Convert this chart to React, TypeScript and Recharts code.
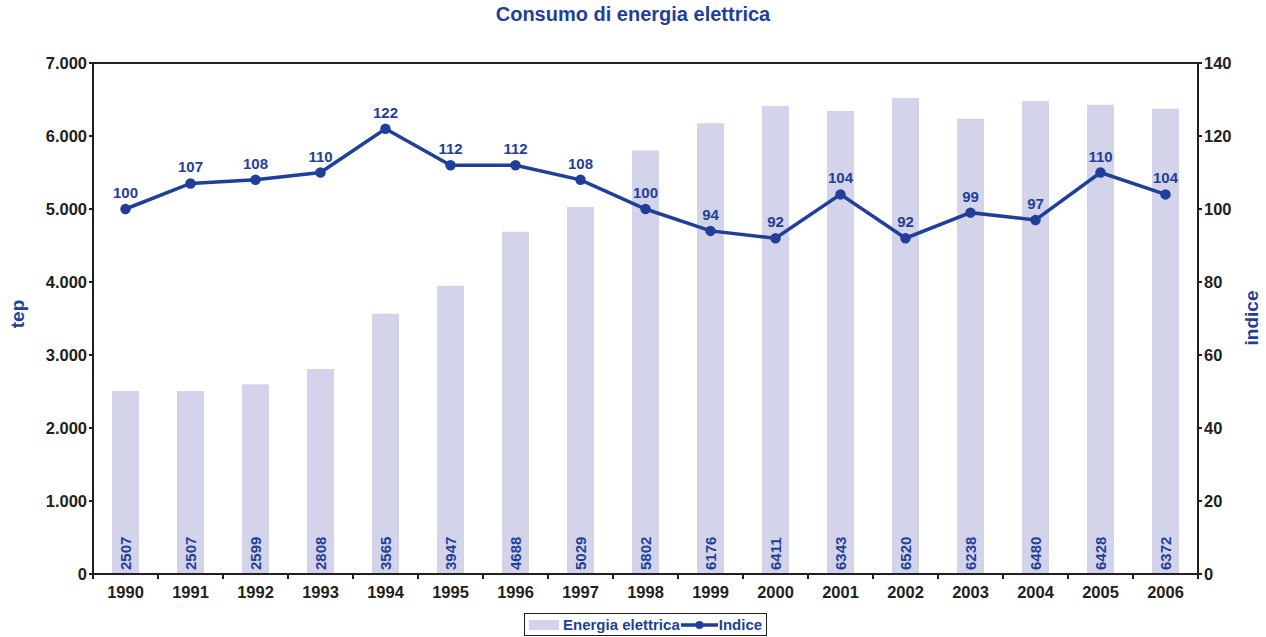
import { ComposedChart, Bar, Line, XAxis, YAxis, LabelList } from "recharts";

const years = ["1990", "1991", "1992", "1993", "1994", "1995", "1996", "1997", "1998", "1999", "2000", "2001", "2002", "2003", "2004", "2005", "2006"];
const energia = [2507, 2507, 2599, 2808, 3565, 3947, 4688, 5029, 5802, 6176, 6411, 6343, 6520, 6238, 6480, 6428, 6372];
const indice = [100, 107, 108, 110, 122, 112, 112, 108, 100, 94, 92, 104, 92, 99, 97, 110, 104];

const leftTicks = [0, 1000, 2000, 3000, 4000, 5000, 6000, 7000];
const rightTicks = [0, 20, 40, 60, 80, 100, 120, 140];

const BLUE = "#1f3f99";
const BAR = "#d3d4ea";
const AXIS = "#231f20";
const FONT = "'Liberation Sans', Arial, sans-serif";

const data = years.map((y, i) => ({ year: y, energia: energia[i], indice: indice[i] }));

const fmtThousands = (v: number) => (v === 0 ? "0" : v.toLocaleString("it-IT").replace(",", "."));

function XTick(props: any) {
  const { x, y, payload, index } = props;
  const half = 65 / 2;
  return (
    <g>
      <line x1={x - half} y1={y - 8} x2={x - half} y2={y - 3} stroke={AXIS} strokeWidth={2} />
      {index === years.length - 1 && (
        <line x1={x + half} y1={y - 8} x2={x + half} y2={y - 3} stroke={AXIS} strokeWidth={2} />
      )}
      <text x={x} y={y + 16} textAnchor="middle" fill={AXIS} fontSize={16.5} fontWeight="bold" fontFamily={FONT}>
        {payload.value}
      </text>
    </g>
  );
}

function BarValue(props: any) {
  const { x, y, width, height, value } = props;
  const cx = x + width / 2 + 5.5;
  const by = y + height - 4;
  return (
    <text
      x={cx}
      y={by}
      transform={`rotate(-90 ${cx} ${by})`}
      textAnchor="start"
      fill={BLUE}
      fontSize={15}
      fontWeight="bold"
      fontFamily={FONT}
    >
      {value}
    </text>
  );
}

function AxisTitle({ x, y, text }: { x: number; y: number; text: string }) {
  return (
    <text
      x={x}
      y={y}
      transform={`rotate(-90 ${x} ${y})`}
      textAnchor="middle"
      dominantBaseline="central"
      fill={BLUE}
      fontSize={19}
      fontWeight="bold"
      fontFamily={FONT}
    >
      {text}
    </text>
  );
}

function LegendBox() {
  return (
    <div
      style={{
        position: "absolute",
        left: 524,
        top: 613,
        width: 241,
        height: 21,
        display: "flex",
        alignItems: "center",
        border: "1px solid #231f20",
        boxSizing: "content-box",
        fontFamily: FONT,
        fontWeight: "bold",
        fontSize: 15,
        color: BLUE,
        background: "#fff",
        whiteSpace: "nowrap",
      }}
    >
      <span style={{ display: "inline-block", width: 30, height: 10, background: BAR, marginLeft: 4, marginRight: 4 }} />
      <span>Energia elettrica</span>
      <svg width={37} height={12} style={{ margin: "0 1px" }}>
        <line x1={0} y1={6} x2={37} y2={6} stroke={BLUE} strokeWidth={3.5} />
        <circle cx={18.5} cy={6} r={4} fill={BLUE} />
      </svg>
      <span>Indice</span>
    </div>
  );
}

export default function App() {
  return (
    <div style={{ position: "absolute", left: 0, top: 0, width: 1266, height: 637, background: "#fff", fontFamily: FONT }}>
      <div
        style={{
          position: "absolute",
          top: 3,
          left: 0,
          width: 1266,
          textAlign: "center",
          color: BLUE,
          fontWeight: "bold",
          fontSize: 20,
        }}
      >
        Consumo di energia elettrica
      </div>
      <ComposedChart
        width={1266}
        height={637}
        data={data}
        margin={{ top: 63, left: 23, right: 18, bottom: 33 }}
        barCategoryGap={19}
      >
        <XAxis
          dataKey="year"
          stroke={AXIS}
          strokeWidth={2}
          tickLine={false}
          height={30}
          tick={<XTick />}
          interval={0}
        />
        <YAxis
          yAxisId="left"
          domain={[0, 7000]}
          ticks={leftTicks}
          width={70}
          stroke={AXIS}
          strokeWidth={2}
          tickSize={4}
          tickFormatter={fmtThousands}
          tick={{ fill: AXIS, fontSize: 16.5, fontWeight: "bold", fontFamily: FONT }}
        />
        <YAxis
          yAxisId="right"
          orientation="right"
          domain={[0, 140]}
          ticks={rightTicks}
          width={50}
          stroke={AXIS}
          strokeWidth={2}
          tickSize={4}
          tick={{ fill: AXIS, fontSize: 16.5, fontWeight: "bold", fontFamily: FONT }}
        />
        <line x1={93} y1={63} x2={1198} y2={63} stroke={AXIS} strokeWidth={2} />
        <AxisTitle x={17} y={314} text="tep" />
        <AxisTitle x={1251} y={318} text="indice" />
        <Bar yAxisId="left" dataKey="energia" name="Energia elettrica" fill={BAR} barSize={27} isAnimationActive={false}>
          <LabelList dataKey="energia" content={<BarValue />} />
        </Bar>
        <Line
          yAxisId="right"
          dataKey="indice"
          name="Indice"
          stroke={BLUE}
          strokeWidth={3.5}
          dot={{ r: 3.5, fill: BLUE, stroke: BLUE }}
          isAnimationActive={false}
        >
          <LabelList dataKey="indice" position="top" offset={11} fill={BLUE} fontSize={15} fontWeight="bold" fontFamily={FONT} />
        </Line>
      </ComposedChart>
      <LegendBox />
    </div>
  );
}
